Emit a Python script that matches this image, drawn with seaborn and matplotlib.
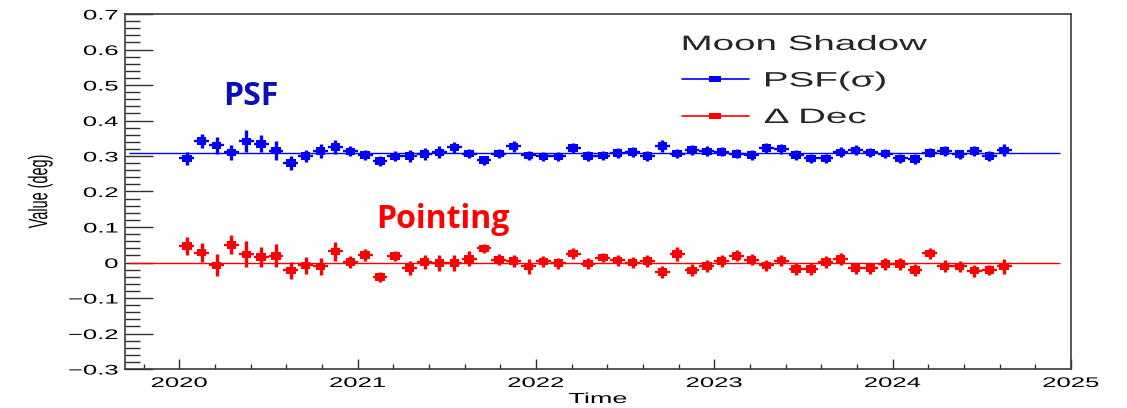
import numpy as np
import pandas as pd
import matplotlib
matplotlib.use("Agg")
import matplotlib.pyplot as plt
import seaborn as sns
from matplotlib.lines import Line2D
from matplotlib.markers import MarkerStyle
from matplotlib.patheffects import AbstractPathEffect
from matplotlib.transforms import Affine2D
from matplotlib.ticker import MultipleLocator, FuncFormatter

# ---------------------------------------------------------------- data
months = pd.period_range("2020-01", "2024-08", freq="M")

psf_sigma = [
    0.293, 0.343, 0.330, 0.310, 0.341, 0.334, 0.315, 0.280, 0.300, 0.314,
    0.325, 0.313, 0.303, 0.286, 0.299, 0.300, 0.305, 0.310, 0.324, 0.307,
    0.288, 0.307, 0.327, 0.302, 0.299, 0.299, 0.322, 0.300, 0.301, 0.309,
    0.312, 0.300, 0.328, 0.307, 0.317, 0.313, 0.312, 0.306, 0.303, 0.322,
    0.321, 0.303, 0.293, 0.293, 0.310, 0.316, 0.310, 0.307, 0.293, 0.291,
    0.309, 0.314, 0.305, 0.314, 0.300, 0.316,
]
psf_err = [
    0.017, 0.020, 0.023, 0.021, 0.031, 0.024, 0.027, 0.020, 0.018, 0.020,
    0.020, 0.014, 0.014, 0.014, 0.014, 0.016, 0.017, 0.017, 0.015, 0.013,
    0.013, 0.012, 0.015, 0.013, 0.013, 0.013, 0.014, 0.013, 0.013, 0.014,
    0.014, 0.013, 0.017, 0.014, 0.014, 0.014, 0.013, 0.013, 0.013, 0.014,
    0.014, 0.013, 0.013, 0.013, 0.014, 0.014, 0.013, 0.013, 0.013, 0.014,
    0.013, 0.014, 0.013, 0.014, 0.013, 0.017,
]
dec_offset = [
    0.047, 0.028, -0.008, 0.050, 0.023, 0.016, 0.019, -0.022, -0.008, -0.011,
    0.031, 0.001, 0.021, -0.041, 0.018, -0.015, 0.002, -0.002, -0.002, 0.010,
    0.040, 0.008, 0.004, -0.011, 0.003, -0.002, 0.025, -0.003, 0.014, 0.006,
    0.000, 0.004, -0.027, 0.024, -0.022, -0.010, 0.004, 0.019, 0.008, -0.008,
    0.005, -0.018, -0.018, 0.001, 0.010, -0.016, -0.016, -0.004, -0.004, -0.021,
    0.026, -0.011, -0.011, -0.023, -0.021, -0.011,
]
dec_err = [
    0.025, 0.026, 0.031, 0.027, 0.037, 0.028, 0.032, 0.024, 0.024, 0.024,
    0.026, 0.016, 0.016, 0.015, 0.015, 0.020, 0.020, 0.022, 0.022, 0.021,
    0.013, 0.015, 0.017, 0.021, 0.016, 0.016, 0.016, 0.016, 0.013, 0.016,
    0.016, 0.016, 0.016, 0.021, 0.017, 0.016, 0.016, 0.016, 0.016, 0.016,
    0.016, 0.016, 0.017, 0.017, 0.016, 0.016, 0.016, 0.016, 0.016, 0.017,
    0.016, 0.017, 0.016, 0.017, 0.015, 0.022,
]
psf_fit = 0.308
dec_fit = 0.0

series_names = ["PSF(\u03c3)", "\u0394 Dec"]
series_colors = ["#0000ff", "#ff0000"]
legend_title = "Moon Shadow"
x_label = "Time"
y_label = "Value (deg)"

# decimal year at the middle of each month, half-month horizontal error
year = np.asarray(months.year + (months.month - 0.5) / 12.0, dtype=float)
half_month = 0.5 / 12.0

df = pd.concat([
    pd.DataFrame({"year": year, "value": psf_sigma, "err": psf_err,
                  "series": series_names[0]}),
    pd.DataFrame({"year": year, "value": dec_offset, "err": dec_err,
                  "series": series_names[1]}),
], ignore_index=True)
palette = dict(zip(series_names, series_colors))


class Widen(AbstractPathEffect):
    """Draw text glyphs widened horizontally on screen around an anchor."""

    def __init__(self, factor=1.85, anchor="left"):
        super().__init__()
        self.factor = factor
        self.anchor = anchor

    def draw_path(self, renderer, gc, tpath, affine, rgbFace=None):
        ext = tpath.get_extents(affine)
        if self.anchor == "left":
            x0 = ext.x0
        elif self.anchor == "right":
            x0 = ext.x1
        else:
            x0 = 0.5 * (ext.x0 + ext.x1)
        t = affine + Affine2D().translate(-x0, 0).scale(self.factor, 1.0).translate(x0, 0)
        renderer.draw_path(gc, tpath, t, rgbFace)


WIDE = 1.85

# ---------------------------------------------------------------- figure
sns.set_theme(style="ticks")
plt.rcParams["font.family"] = ["Liberation Sans", "DejaVu Sans"]
plt.rcParams["axes.unicode_minus"] = True

W, H = 1127, 408
fig = plt.figure(figsize=(W / 100, H / 100), dpi=100)
fig.patch.set_facecolor("white")
ax_l, ax_r, ax_t, ax_b = 125, 1071, 14, 369
ax = fig.add_axes([ax_l / W, 1 - ax_b / H, (ax_r - ax_l) / W, (ax_b - ax_t) / H])
ax.set_facecolor("white")

# fitted constant levels
for level, col in zip([psf_fit, dec_fit], series_colors):
    ax.hlines(level, 2019.72, 2024.94, color=col, lw=1.0, zorder=2)

# error bars: vertical arms a little thicker than the horizontal ones
for name, col in zip(series_names, series_colors):
    d = df[df["series"] == name]
    ax.errorbar(d["year"], d["value"], yerr=d["err"], fmt="none",
                ecolor=col, elinewidth=2.4, capsize=0, zorder=3)
    ax.errorbar(d["year"], d["value"], xerr=half_month, fmt="none",
                ecolor=col, elinewidth=1.7, capsize=0, zorder=3)

point_marker = MarkerStyle([(-0.5, -0.4), (0.5, -0.4), (0.5, 0.4), (-0.5, 0.4)])
sns.scatterplot(data=df, x="year", y="value", hue="series", palette=palette,
                marker=point_marker, s=46, linewidth=0, edgecolor="none",
                legend=False, ax=ax, zorder=4)

# axes ranges and ticks
ax.set_xlim(2019.695, 2025.0)
ax.set_ylim(-0.3, 0.7)
ax.xaxis.set_major_locator(MultipleLocator(1.0))
ax.xaxis.set_minor_locator(MultipleLocator(0.2))
ax.yaxis.set_major_locator(MultipleLocator(0.1))
ax.yaxis.set_minor_locator(MultipleLocator(0.02))
ax.xaxis.set_major_formatter(FuncFormatter(lambda v, _: f"{int(round(v))}"))
ax.yaxis.set_major_formatter(
    FuncFormatter(lambda v, _: f"{round(v, 2):g}".replace("-", "\u2212")))

tick_col = "#303030"
ax.tick_params(axis="both", which="both", direction="in", color=tick_col,
               width=1.0, top=False, right=False, labelcolor="black")
ax.tick_params(axis="y", which="major", length=20, pad=5, labelsize=10)
ax.tick_params(axis="y", which="minor", length=10.5)
ax.tick_params(axis="x", which="major", length=7.2, pad=5, labelsize=10)
ax.tick_params(axis="x", which="minor", length=3.6)

for sp in ax.spines.values():
    sp.set_color("#3c3c3c")
    sp.set_linewidth(1.2)

ax.set_xlabel(x_label, fontsize=10.5, color="black")
ax.set_ylabel(y_label, fontsize=10.4, color="black")
ax.xaxis.set_label_coords(0.5, (ax_b - 392) / (ax_b - ax_t))
ax.yaxis.set_label_coords((47 - ax_l) / (ax_r - ax_l), 0.5)
ax.xaxis.label.set_path_effects([Widen(WIDE, "center")])
ax.yaxis.label.set_path_effects([Widen(WIDE, "center")])

for t in ax.xaxis.get_major_ticks():
    t.label1.set_path_effects([Widen(WIDE, "center")])
for t in ax.yaxis.get_major_ticks():
    t.label1.set_path_effects([Widen(WIDE, "right")])

# legend
legend_marker = MarkerStyle([(-0.5, -0.28), (0.5, -0.28), (0.5, 0.28), (-0.5, 0.28)])
handles = [Line2D([0], [0], color=c, lw=1.2, marker=legend_marker,
                  markersize=8, markeredgewidth=0) for c in series_colors]
leg = ax.legend(handles, series_names, title=legend_title, loc="upper left",
                bbox_to_anchor=(682 / W, 1 - 35 / H), bbox_transform=fig.transFigure,
                frameon=False, fontsize=15, title_fontsize=15, alignment="left",
                handlelength=3.2, handletextpad=0.75, labelspacing=0.84,
                borderpad=0, borderaxespad=0, numpoints=1)
leg.get_title().set_path_effects([Widen(WIDE, "left")])
for t in leg.get_texts():
    t.set_path_effects([Widen(WIDE, "left")])

# annotations
ax.text(2020.244, 0.444, "PSF", color="#0c10b4", fontsize=23, fontweight="bold",
        family=["Open Sans", "DejaVu Sans"], ha="left", va="baseline")
ax.text(2021.105, 0.097, "Pointing", color="#ff0000", fontsize=23, fontweight="bold",
        family=["Open Sans", "DejaVu Sans"], ha="left", va="baseline")

fig.savefig("out.png", dpi=100, facecolor="white")
